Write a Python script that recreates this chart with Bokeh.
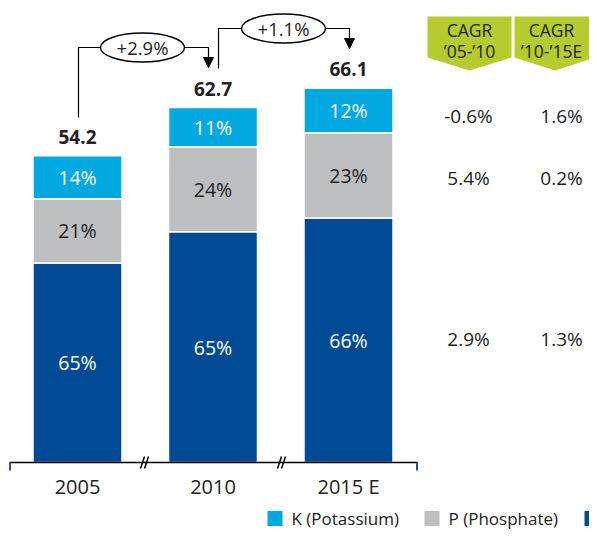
from bokeh.plotting import figure
from bokeh.models import Range1d, ColumnDataSource, Arrow, NormalHead
from bokeh.core.properties import value
from bokeh.embed import file_html
from bokeh.resources import INLINE

# ---------------- data ----------------
years = ["2005", "2010", "2015 E"]
totals = [54.2, 62.7, 66.1]
n_pct = [65, 65, 66]
p_pct = [21, 24, 23]
k_pct = [14, 11, 12]
growth = ["+2.9%", "+1.1%"]
cagr_headers = [["CAGR", "\u201905-\u201910"], ["CAGR", "\u201910-\u201915E"]]
cagr_k = ["-0.6%", "1.6%"]
cagr_p = ["5.4%", "0.2%"]
cagr_n = ["2.9%", "1.3%"]
legend_labels = ["K (Potassium)", "P (Phosphate)"]

K_COL = "#00A8E1"
P_COL = "#BDBEC0"
N_COL = "#004A94"
GREEN = "#B5CB2E"
TXT = "#222222"
FONT = "Open Sans"

W, H = 589, 532
UX = 135.5   # px per x unit
UY = 5.66    # px per y unit
BASE = 462   # baseline, px from top


def dx(sx):
    return (sx - 77) / UX


def dy(sy):
    return (BASE - sy) / UY


p = figure(width=W, height=H, output_backend="svg", toolbar_location=None,
           x_range=Range1d(dx(0), dx(W)), y_range=Range1d(dy(H), dy(0)), min_border=0)
p.axis.visible = False
p.grid.visible = False
p.outline_line_color = None
p.background_fill_color = "white"
p.border_fill_color = "white"

xpos = list(range(len(years)))
nv, pv, kv = [], [], []
for t, a, b, c in zip(totals, n_pct, p_pct, k_pct):
    s = a + b + c
    nv.append(t * a / s)
    pv.append(t * b / s)
    kv.append(t * c / s)
n_top = nv
p_top = [a + b for a, b in zip(nv, pv)]
k_top = [a + b for a, b in zip(p_top, kv)]

bw = 89 / UX
src = ColumnDataSource(dict(x=xpos, n0=[0] * 3, n1=n_top, p1=p_top, k1=k_top))
for bot, top, col in [("n0", "n1", N_COL), ("n1", "p1", P_COL), ("p1", "k1", K_COL)]:
    p.vbar(x="x", bottom=bot, top=top, width=bw, source=src, fill_color=col,
           line_color="white", line_width=1.5)

SEG_FS = "19.5px"
p.text(x=xpos, y=[v / 2 for v in n_top], text=[f"{v}%" for v in n_pct],
       text_color="white", text_font=value(FONT), text_font_size=SEG_FS,
       text_align="center", text_baseline="middle")
p.text(x=xpos, y=[(a + b) / 2 for a, b in zip(n_top, p_top)], text=[f"{v}%" for v in p_pct],
       text_color=TXT, text_font=value(FONT), text_font_size=SEG_FS,
       text_align="center", text_baseline="middle")
p.text(x=xpos, y=[(a + b) / 2 for a, b in zip(p_top, k_top)], text=[f"{v}%" for v in k_pct],
       text_color="white", text_font=value(FONT), text_font_size=SEG_FS,
       text_align="center", text_baseline="middle")

# totals
p.text(x=xpos, y=[t + 19 / UY for t in totals], text=[f"{t}" for t in totals],
       text_color=TXT, text_font=value(FONT), text_font_size="19px",
       text_font_style="bold", text_align="center", text_baseline="middle")

# x axis
p.segment(x0=[dx(9)], y0=[0], x1=[dx(417)], y1=[0], line_color="black", line_width=1.5)
p.segment(x0=[dx(9.5), dx(416.5)], y0=[0, 0], x1=[dx(9.5), dx(416.5)], y1=[dy(470), dy(470)],
          line_color="#2B4C9B", line_width=2)
for bx in [145, 282]:
    p.segment(x0=[dx(bx - 5), dx(bx - 1)], y0=[dy(468), dy(468)],
              x1=[dx(bx - 1), dx(bx + 3)], y1=[dy(456), dy(456)],
              line_color="black", line_width=1.5)
p.text(x=xpos, y=[dy(486)] * 3, text=years, text_color=TXT, text_font=value(FONT),
       text_font_size="20px", text_align="center", text_baseline="middle")

# growth connectors
conn = [
    dict(x0=78, ytop=47, ybot=117, x1=208, tip=67, ecx=142),
    dict(x0=218, ytop=28, ybot=68, x1=349, tip=48, ecx=283),
]
for c, g in zip(conn, growth):
    p.line(x=[dx(c["x0"]), dx(c["x0"]), dx(c["x1"]), dx(c["x1"])],
           y=[dy(c["ybot"]), dy(c["ytop"]), dy(c["ytop"]), dy(c["tip"] - 10)],
           line_color="black", line_width=1.2)
    p.add_layout(Arrow(end=NormalHead(size=10, fill_color="black", line_color="black"),
                       x_start=dx(c["x1"]), y_start=dy(c["tip"] - 10),
                       x_end=dx(c["x1"]), y_end=dy(c["tip"]),
                       line_color="black", line_width=1.2))
    p.ellipse(x=[dx(c["ecx"])], y=[dy(c["ytop"])], width=[84 / UX], height=[29 / UY],
              fill_color="white", line_color="black", line_width=1.4)
    p.text(x=[dx(c["ecx"])], y=[dy(c["ytop"])], text=[g], text_color=TXT,
           text_font=value(FONT), text_font_size="18.5px", text_align="center",
           text_baseline="middle")

# CAGR headers
boxes = [(427, 511), (514, 595)]
for (bl, br), hdr in zip(boxes, cagr_headers):
    cx = (bl + br) / 2
    p.patch(x=[dx(bl), dx(br), dx(br), dx(cx), dx(bl)],
            y=[dy(16), dy(16), dy(57), dy(70), dy(57)],
            fill_color=GREEN, line_color=None)
    tx = min(cx, 551)
    p.text(x=[dx(tx), dx(tx)], y=[dy(29), dy(50)], text=hdr, text_color=TXT,
           text_font=value(FONT), text_font_size="17.5px", text_align="center",
           text_baseline="middle")

col_x = [468, 561]
for rowvals, sy in [(cagr_k, 115), (cagr_p, 177), (cagr_n, 338)]:
    p.text(x=[dx(cx) for cx in col_x], y=[dy(sy)] * 2, text=rowvals, text_color=TXT,
           text_font=value(FONT), text_font_size="19px", text_align="center",
           text_baseline="middle")

# legend (bottom of canvas)
leg_sq = [267, 424, 584]
leg_cols = [K_COL, P_COL, N_COL]
LEG_Y = 518
p.rect(x=[dx(s + 7.5) for s in leg_sq], y=[dy(LEG_Y)] * 3, width=15 / UX, height=15 / UY,
       fill_color=leg_cols, line_color=None)
p.text(x=[dx(s + 24) for s in leg_sq[:2]], y=[dy(LEG_Y)] * 2, text=legend_labels,
       text_color=TXT, text_font=value(FONT), text_font_size="17px", text_align="left",
       text_baseline="middle")

open("out.html", "w").write(file_html(p, INLINE))
